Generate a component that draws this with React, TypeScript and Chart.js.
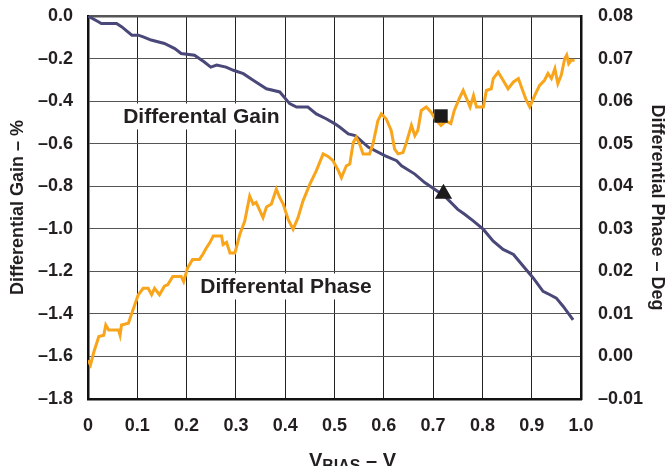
import React, { useEffect, useRef } from "react";
import { Chart, registerables } from "chart.js";

Chart.register(...registerables);

// ---------- data ----------
const gainX = [
  0, 0.021, 0.027, 0.058, 0.068, 0.089, 0.102, 0.112, 0.128, 0.155, 0.176, 0.189, 0.216, 0.236, 0.249,
  0.261, 0.28, 0.295, 0.315, 0.335, 0.362, 0.389, 0.409, 0.423, 0.446, 0.463, 0.483, 0.501, 0.511, 0.528,
  0.542, 0.569, 0.603, 0.626, 0.636, 0.663, 0.683, 0.703, 0.723, 0.75, 0.764, 0.782, 0.802, 0.822, 0.842,
  0.863, 0.883, 0.903, 0.923, 0.937, 0.95, 0.964, 0.984,
];
const gainY = [
  0, -0.027, -0.035, -0.035, -0.05, -0.09, -0.09, -0.098, -0.113, -0.129, -0.153, -0.176, -0.184, -0.216, -0.24,
  -0.231, -0.24, -0.255, -0.271, -0.302, -0.342, -0.357, -0.412, -0.428, -0.428, -0.46, -0.483, -0.507, -0.523, -0.554,
  -0.562, -0.617, -0.657, -0.68, -0.704, -0.743, -0.783, -0.814, -0.846, -0.909, -0.932, -0.964, -1.003, -1.058, -1.097,
  -1.121, -1.176, -1.231, -1.294, -1.31, -1.326, -1.365, -1.428,
];

const phaseX = [
  0, 0.005, 0.012, 0.022, 0.032, 0.036, 0.042, 0.062, 0.065, 0.068, 0.082, 0.089, 0.102, 0.112, 0.122,
  0.129, 0.135, 0.145, 0.155, 0.162, 0.172, 0.189, 0.194, 0.202, 0.212, 0.226, 0.233, 0.24, 0.247, 0.254,
  0.271, 0.274, 0.281, 0.288, 0.298, 0.308, 0.318, 0.328, 0.335, 0.341, 0.355, 0.362, 0.372, 0.382, 0.389,
  0.396, 0.406, 0.416, 0.426, 0.436, 0.45, 0.463, 0.477, 0.487, 0.497, 0.508, 0.514, 0.524, 0.531, 0.538,
  0.544, 0.551, 0.558, 0.571, 0.578, 0.588, 0.595, 0.605, 0.615, 0.622, 0.629, 0.639, 0.646, 0.656, 0.663,
  0.669, 0.676, 0.686, 0.696, 0.706, 0.716, 0.726, 0.736, 0.743, 0.753, 0.761, 0.768, 0.775, 0.782, 0.788,
  0.802, 0.808, 0.818, 0.822, 0.832, 0.842, 0.852, 0.863, 0.873, 0.883, 0.889, 0.896, 0.906, 0.916, 0.926,
  0.933, 0.94, 0.947, 0.953, 0.96, 0.967, 0.971, 0.975, 0.98, 0.987,
];
const phaseY = [
  -0.0009, -0.002, 0.0011, 0.0047, 0.005, 0.0074, 0.0062, 0.0062, 0.005, 0.0074, 0.0078, 0.0102, 0.0145, 0.016, 0.016,
  0.0145, 0.016, 0.0145, 0.0165, 0.0169, 0.0188, 0.0188, 0.0176, 0.0208, 0.0228, 0.0228, 0.024, 0.0255, 0.0267, 0.0283,
  0.0283, 0.0263, 0.0268, 0.0243, 0.0243, 0.0287, 0.0318, 0.0377, 0.0358, 0.0362, 0.0326, 0.0351, 0.0358, 0.0393, 0.0373,
  0.0358, 0.0322, 0.0299, 0.0326, 0.0365, 0.0405, 0.0436, 0.0476, 0.047, 0.046, 0.0436, 0.042, 0.0448, 0.0452, 0.0503,
  0.0515, 0.0499, 0.0476, 0.0476, 0.0499, 0.0554, 0.057, 0.0558, 0.0531, 0.0487, 0.0476, 0.0479, 0.0503, 0.0543, 0.0519,
  0.0531, 0.0578, 0.0586, 0.0574, 0.0555, 0.0543, 0.0553, 0.0547, 0.0578, 0.0606, 0.0625, 0.0606, 0.0586, 0.0613, 0.0586,
  0.0586, 0.0625, 0.0629, 0.0653, 0.0668, 0.0649, 0.0629, 0.0645, 0.0653, 0.0621, 0.0602, 0.0586, 0.0613, 0.0637, 0.0649,
  0.0665, 0.0653, 0.0676, 0.0641, 0.0661, 0.07, 0.0708, 0.0688, 0.0696, 0.0696,
];

// marker points (triangle on the gain curve, square on the phase curve)
const gainMarkerX = [0.721];
const gainMarkerY = [-0.835];
const phaseMarkerX = [0.716];
const phaseMarkerY = [0.0565];

// series labels placed in data units (x, left-axis y at text baseline)
const labelTexts = ["Differental Gain", "Differental Phase"];
const labelX = [0.23, 0.4016];
const labelY = [-0.505, -1.304];

const FONT = '"Liberation Sans", Arial, Helvetica, sans-serif';
const INK = "#231f20";

const toPts = (xs: number[], ys: number[]) => xs.map((x, i) => ({ x, y: ys[i] }));

const annotate = {
  id: "annotate",
  beforeDatasetsDraw(chart: any) {
    const { ctx, scales } = chart;
    const xs = scales.x;
    const ys = scales.y;
    ctx.save();
    ctx.font = `bold 21px ${FONT}`;
    ctx.textAlign = "center";
    ctx.textBaseline = "alphabetic";
    labelTexts.forEach((t, i) => {
      const px = xs.getPixelForValue(labelX[i]);
      const py = ys.getPixelForValue(labelY[i]);
      const w = ctx.measureText(t).width;
      ctx.fillStyle = "#ffffff";
      ctx.fillRect(px - w / 2 - 5, py - 20, w + 10, 26);
      ctx.fillStyle = INK;
      ctx.fillText(t, px, py);
    });
    ctx.restore();
  },
  afterDraw(chart: any) {
    const { ctx, chartArea } = chart;
    ctx.save();
    ctx.fillStyle = INK;
    ctx.textAlign = "left";
    ctx.textBaseline = "alphabetic";
    const big = `bold 20px ${FONT}`;
    const small = `bold 16px ${FONT}`;
    ctx.font = big;
    const w1 = ctx.measureText("V").width;
    const w3 = ctx.measureText(" \u2013 V").width;
    ctx.font = small;
    const w2 = ctx.measureText("BIAS").width;
    const total = w1 + w2 + w3;
    const cx = (chartArea.left + chartArea.right) / 2 + 18;
    let x = cx - total / 2;
    const base = chartArea.bottom + 68;
    ctx.font = big;
    ctx.fillText("V", x, base);
    x += w1;
    ctx.font = small;
    ctx.fillText("BIAS", x, base + 4);
    x += w2;
    ctx.font = big;
    ctx.fillText(" \u2013 V", x, base);
    ctx.restore();
  },
};

export default function App() {
  const ref = useRef<HTMLCanvasElement | null>(null);

  useEffect(() => {
    document.body.style.margin = "0";
    document.body.style.overflow = "hidden";
    Chart.defaults.font.family = FONT;
    const canvas = ref.current;
    if (!canvas) return;

    const chart = new Chart(canvas, {
      type: "line",
      data: {
        datasets: [
          {
            label: "Gain marker",
            data: toPts(gainMarkerX, gainMarkerY),
            yAxisID: "y",
            showLine: false,
            pointStyle: "triangle",
            pointRadius: 10,
            backgroundColor: "#1c1a1b",
            borderColor: "#1c1a1b",
            borderWidth: 0,
          },
          {
            label: "Phase marker",
            data: toPts(phaseMarkerX, phaseMarkerY),
            yAxisID: "y1",
            showLine: false,
            pointStyle: "rect",
            pointRadius: 9.5,
            backgroundColor: "#1c1a1b",
            borderColor: "#1c1a1b",
            borderWidth: 0,
          },
          {
            label: "Differential Phase",
            data: toPts(phaseX, phaseY),
            yAxisID: "y1",
            borderColor: "#f8a51c",
            borderWidth: 3,
            pointRadius: 0,
            tension: 0,
            fill: false,
          },
          {
            label: "Differential Gain",
            data: toPts(gainX, gainY),
            yAxisID: "y",
            borderColor: "#4a4879",
            borderWidth: 3,
            pointRadius: 0,
            tension: 0,
            fill: false,
          },
        ],
      },
      options: {
        responsive: false,
        animation: false,
        events: [],
        layout: { padding: { top: 16, left: 0, right: 0, bottom: 0 } },
        plugins: {
          legend: { display: false },
          tooltip: { enabled: false },
          title: { display: false },
        },
        scales: {
          x: {
            type: "linear",
            position: "bottom",
            min: 0,
            max: 1,
            afterFit: (s: any) => {
              s.height = 67;
            },
            ticks: {
              stepSize: 0.1,
              autoSkip: false,
              maxRotation: 0,
              padding: 16,
              color: INK,
              font: { size: 18, weight: "bold", family: FONT },
              callback: (v: any) => (Number(v) === 0 ? "0" : Number(v).toFixed(1)),
            },
            grid: { color: "#222222", lineWidth: 1, drawTicks: false },
            border: { display: true, color: "#111111", width: 2.5 },
          },
          y: {
            type: "linear",
            position: "left",
            min: -1.8,
            max: 0,
            afterFit: (s: any) => {
              s.width = 88;
              s.paddingTop = 0;
              s.paddingBottom = 0;
            },
            ticks: {
              stepSize: 0.2,
              padding: 15,
              color: INK,
              font: { size: 18, weight: "bold", family: FONT },
              callback: (v: any) => {
                const n = Number(v);
                if (Math.abs(n) < 1e-9) return "0.0";
                return "\u2013" + Math.abs(n).toFixed(1);
              },
            },
            grid: {
              color: "#555555",
              lineWidth: (c: any) => (c.tick && Math.abs(c.tick.value) < 1e-9 ? 2.5 : 1),
              drawTicks: false,
            },
            border: { display: true, color: "#111111", width: 2.5 },
            title: {
              display: true,
              text: "Differential Gain \u2013 %",
              color: INK,
              font: { size: 18, weight: "bold", family: FONT },
              padding: { top: 7, bottom: 0 },
            },
          },
          y1: {
            type: "linear",
            position: "right",
            min: -0.01,
            max: 0.08,
            afterFit: (s: any) => {
              s.width = 87;
              s.paddingTop = 0;
              s.paddingBottom = 0;
            },
            ticks: {
              stepSize: 0.01,
              padding: 17,
              color: INK,
              font: { size: 18, weight: "bold", family: FONT },
              callback: (v: any) => {
                const n = Number(v);
                if (n < -1e-9) return "\u2013" + Math.abs(n).toFixed(2);
                return Math.abs(n).toFixed(2);
              },
            },
            grid: { display: false, drawTicks: false },
            border: { display: true, color: "#111111", width: 2.5 },
            title: {
              display: true,
              text: "Differential Phase \u2013 Deg",
              color: INK,
              font: { size: 18, weight: "bold", family: FONT },
              padding: { top: 0, bottom: 0 },
            },
          },
        },
      },
      plugins: [annotate],
    } as any);

    return () => chart.destroy();
  }, []);

  return (
    <div style={{ width: 668, height: 466 }}>
      <canvas ref={ref} width={668} height={466} style={{ display: "block" }} />
    </div>
  );
}
